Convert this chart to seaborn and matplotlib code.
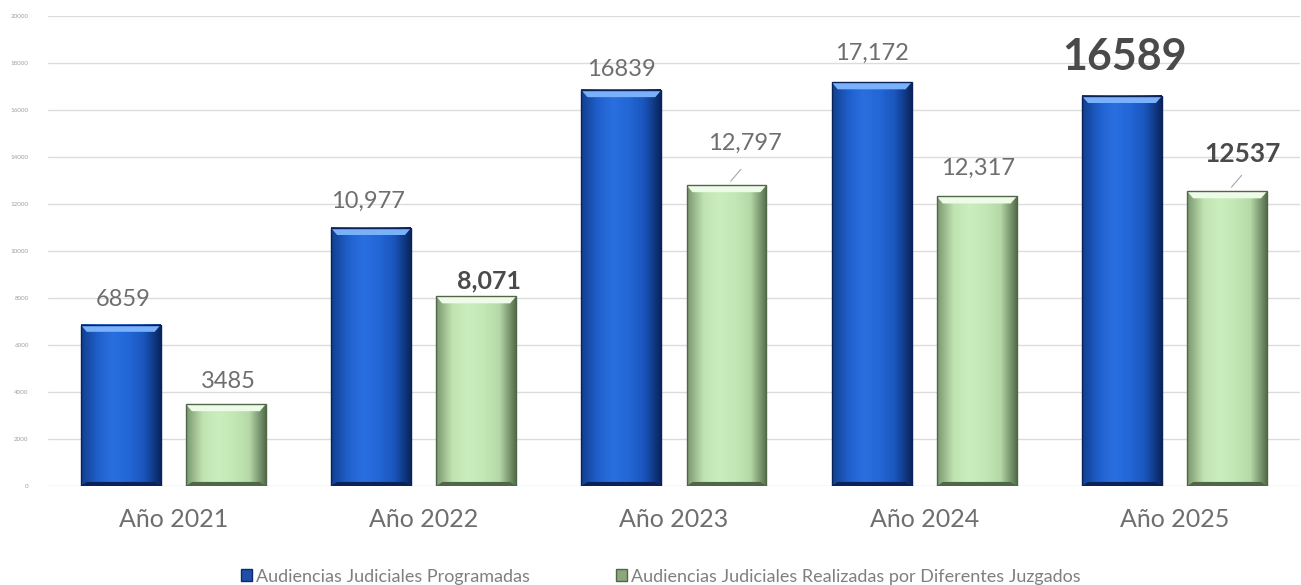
import numpy as np
import pandas as pd
import matplotlib.pyplot as plt
import seaborn as sns
from matplotlib.colors import LinearSegmentedColormap
from matplotlib.patches import Polygon, Patch

# data
years = ['Año 2021', 'Año 2022', 'Año 2023', 'Año 2024', 'Año 2025']
programadas = [6859, 10977, 16839, 17172, 16589]
realizadas = [3485, 8071, 12797, 12317, 12537]
labels_prog = ['6859', '10,977', '16839', '17,172', '16589']
labels_real = ['3485', '8,071', '12,797', '12,317', '12537']
series = ['Audiencias Judiciales Programadas',
          'Audiencias Judiciales Realizadas por Diferentes Juzgados']
yticks = list(range(0, 20001, 2000))

df = pd.DataFrame({
    'year': years * 2,
    'value': programadas + realizadas,
    'serie': [series[0]] * len(years) + [series[1]] * len(years),
})

sns.set_style('white')
plt.rcParams['font.family'] = ['Lato', 'DejaVu Sans']

BLUE = '#2165d2'
GREEN = '#c4e7b6'
TEXT = '#6e6e6e'

# edge -> centre -> edge colour profiles for the bevelled look
grad = {
    BLUE: LinearSegmentedColormap.from_list('b', ['#12408f', '#1f5fcb', '#2a6fe0', '#2366d6', '#1a55bb', '#0a2660']),
    GREEN: LinearSegmentedColormap.from_list('g', ['#7c9870', '#c0e3b1', '#cbeebe', '#c4e7b6', '#b6d9a8', '#56704d']),
}
top_col = {BLUE: '#79b2fb', GREEN: '#eefbe8'}
bot_col = {BLUE: '#0a2257', GREEN: '#4f6746'}

fig, ax = plt.subplots(figsize=(13.01, 5.85), dpi=100)
fig.subplots_adjust(left=0.037, right=0.999, bottom=0.169, top=0.973)

sns.barplot(data=df, x='year', y='value', hue='serie', palette=[BLUE, GREEN],
            width=0.84, gap=0.24, legend=False, ax=ax, zorder=2)

profile = np.linspace(0, 1, 64)[None, :]
px_x = 1.0 / 250          # one pixel in category units
px_y = 20000 / 470        # one pixel in value units
for cont, col in zip(ax.containers, [BLUE, GREEN]):
    for bar in cont:
        x0, w, h = bar.get_x(), bar.get_width(), bar.get_height()
        bar.set_facecolor('none')
        ax.imshow(profile, extent=[x0, x0 + w, 0, h], aspect='auto',
                  cmap=grad[col], zorder=2, interpolation='bicubic')
        d, b = 6 * px_x, 7 * px_y
        ax.add_patch(Polygon([(x0, h), (x0 + w, h), (x0 + w - d, h - b), (x0 + d, h - b)],
                             closed=True, facecolor=top_col[col], edgecolor='none', zorder=3))
        ax.add_patch(Polygon([(x0, 0), (x0 + w, 0), (x0 + w - d, b * 0.6), (x0 + d, b * 0.6)],
                             closed=True, facecolor=bot_col[col], edgecolor='none', zorder=3))
        bar.set_edgecolor(bot_col[col])
        bar.set_linewidth(1.0)
        bar.set_zorder(4)

ax.set_xlim(-0.5, len(years) - 0.5)
ax.set_ylim(0, 20000)

# value labels: (x offset pt, y offset pt, size, weight, leader line)
styles_prog = [(2, 18, 17, 'normal', False), (-2, 19, 17, 'normal', False), (0, 15, 17, 'normal', False),
               (0, 21, 17, 'normal', False), (2, 28, 31, 'bold', False)]
styles_real = [(2, 16, 17, 'normal', False), (9, 11, 18, 'bold', False), (13, 30, 17, 'normal', True),
               (1, 20, 17, 'normal', False), (11, 27, 19, 'bold', True)]

for cont, labels, styles in [(ax.containers[0], labels_prog, styles_prog),
                             (ax.containers[1], labels_real, styles_real)]:
    for bar, lab, (dx, dy, size, weight, leader) in zip(cont, labels, styles):
        cx = bar.get_x() + bar.get_width() / 2
        h = bar.get_height()
        ax.annotate(lab, (cx, h), xytext=(dx, dy), textcoords='offset points',
                    ha='center', va='center', fontsize=size, fontweight=weight,
                    color=TEXT if weight == 'normal' else '#4a4a4a', zorder=5)
        if leader:
            ax.annotate('', (cx + 0.01, h + 2 * px_y), xytext=(cx + 0.065, h + 18 * px_y),
                        arrowprops=dict(arrowstyle='-', color='#a6a6a6', lw=0.8), zorder=5)

ax.set_yticks(yticks)
ax.set_yticklabels([str(t) for t in yticks], fontsize=4.5, color='#a0a0a0')
ax.yaxis.grid(True, color='#dcdcdc', linewidth=1)
ax.set_axisbelow(True)
ax.tick_params(axis='x', labelsize=18, colors=TEXT, pad=16, length=0)
ax.tick_params(axis='y', length=0, pad=14)
ax.set_xlabel('')
ax.set_ylabel('')
sns.despine(ax=ax, left=True, bottom=True)

handles = [Patch(facecolor='#1f4fa8', edgecolor='#0b2a70'),
           Patch(facecolor='#8ea67f', edgecolor='#4f6746')]
fig.legend(handles, series, loc='lower center', bbox_to_anchor=(0.508, -0.027), ncol=2,
           frameon=False, fontsize=13, labelcolor='#7f7f7f', handlelength=0.6, handleheight=0.6,
           handletextpad=0.2, columnspacing=4.8)

fig.savefig('out.png', dpi=100)
